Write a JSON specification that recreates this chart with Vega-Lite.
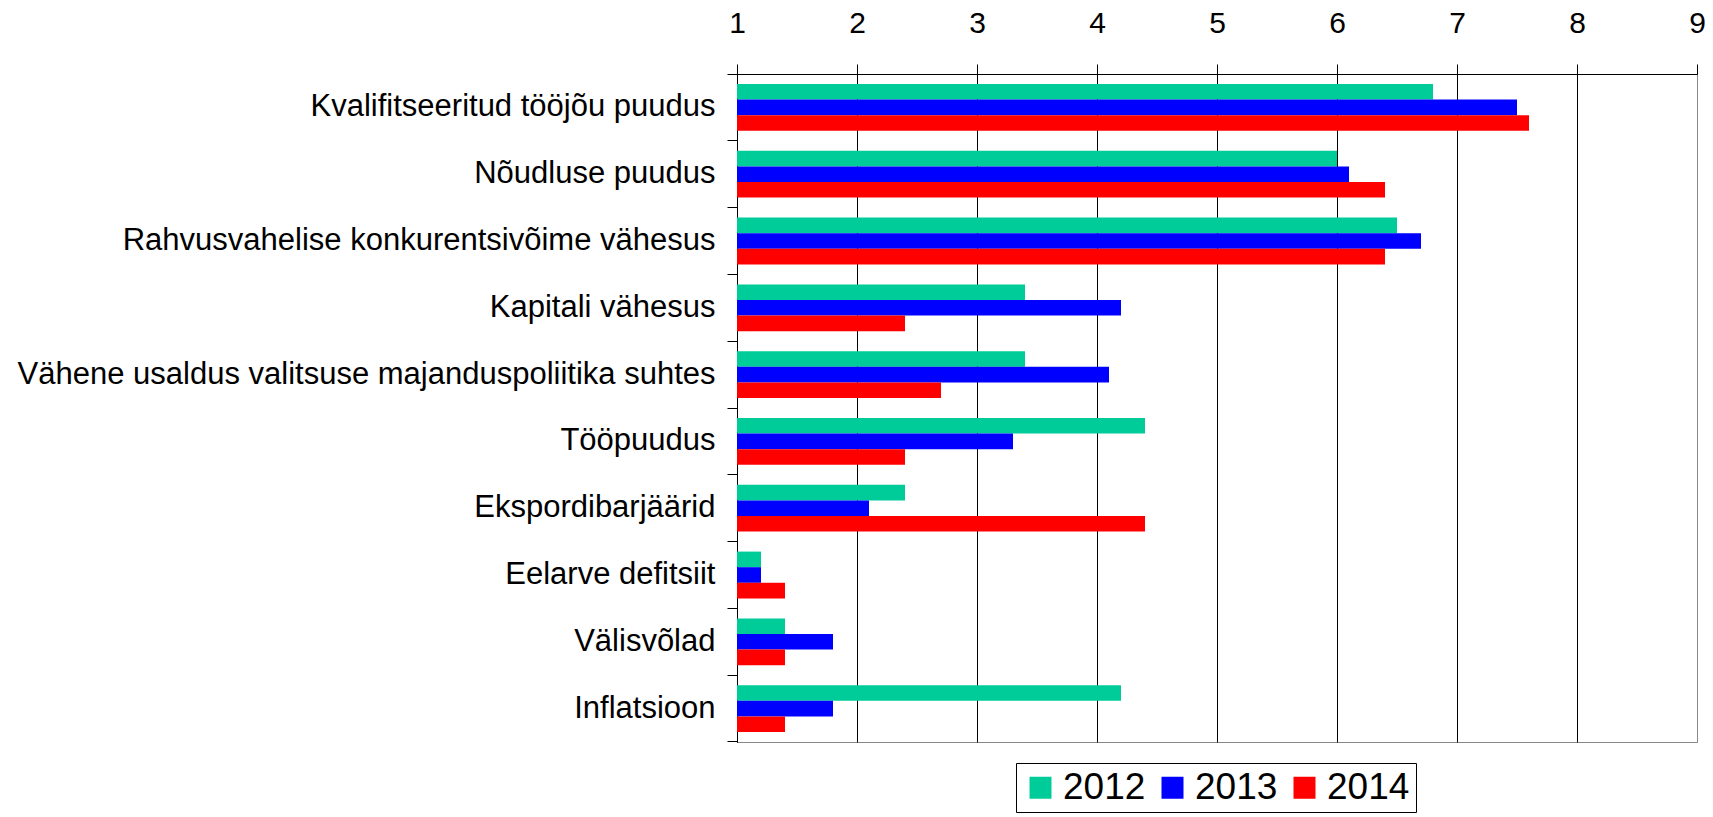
{
  "$schema": "https://vega.github.io/schema/vega-lite/v6.json",
  "autosize": {"type": "none"},
  "padding": {"left": 737, "top": 74, "right": 16, "bottom": 75},
  "width": 960,
  "height": 668,
  "background": "white",
  "config": {
    "font": "Liberation Sans",
    "view": {"stroke": "#888888", "strokeWidth": 1}
  },
  "data": {
    "values": [
      {"cat": "Kvalifitseeritud tööjõu puudus", "year": "2012", "value": 6.8},
      {"cat": "Kvalifitseeritud tööjõu puudus", "year": "2013", "value": 7.5},
      {"cat": "Kvalifitseeritud tööjõu puudus", "year": "2014", "value": 7.6},
      {"cat": "Nõudluse puudus", "year": "2012", "value": 6.0},
      {"cat": "Nõudluse puudus", "year": "2013", "value": 6.1},
      {"cat": "Nõudluse puudus", "year": "2014", "value": 6.4},
      {"cat": "Rahvusvahelise konkurentsivõime vähesus", "year": "2012", "value": 6.5},
      {"cat": "Rahvusvahelise konkurentsivõime vähesus", "year": "2013", "value": 6.7},
      {"cat": "Rahvusvahelise konkurentsivõime vähesus", "year": "2014", "value": 6.4},
      {"cat": "Kapitali vähesus", "year": "2012", "value": 3.4},
      {"cat": "Kapitali vähesus", "year": "2013", "value": 4.2},
      {"cat": "Kapitali vähesus", "year": "2014", "value": 2.4},
      {"cat": "Vähene usaldus valitsuse majanduspoliitika suhtes", "year": "2012", "value": 3.4},
      {"cat": "Vähene usaldus valitsuse majanduspoliitika suhtes", "year": "2013", "value": 4.1},
      {"cat": "Vähene usaldus valitsuse majanduspoliitika suhtes", "year": "2014", "value": 2.7},
      {"cat": "Tööpuudus", "year": "2012", "value": 4.4},
      {"cat": "Tööpuudus", "year": "2013", "value": 3.3},
      {"cat": "Tööpuudus", "year": "2014", "value": 2.4},
      {"cat": "Ekspordibarjäärid", "year": "2012", "value": 2.4},
      {"cat": "Ekspordibarjäärid", "year": "2013", "value": 2.1},
      {"cat": "Ekspordibarjäärid", "year": "2014", "value": 4.4},
      {"cat": "Eelarve defitsiit", "year": "2012", "value": 1.2},
      {"cat": "Eelarve defitsiit", "year": "2013", "value": 1.2},
      {"cat": "Eelarve defitsiit", "year": "2014", "value": 1.4},
      {"cat": "Välisvõlad", "year": "2012", "value": 1.4},
      {"cat": "Välisvõlad", "year": "2013", "value": 1.8},
      {"cat": "Välisvõlad", "year": "2014", "value": 1.4},
      {"cat": "Inflatsioon", "year": "2012", "value": 4.2},
      {"cat": "Inflatsioon", "year": "2013", "value": 1.8},
      {"cat": "Inflatsioon", "year": "2014", "value": 1.4}
    ]
  },
  "mark": {"type": "bar"},
  "encoding": {
    "y": {
      "field": "cat",
      "type": "nominal",
      "sort": null,
      "scale": {"paddingInner": 0, "paddingOuter": 0},
      "axis": {
        "title": null,
        "orient": "left",
        "domainColor": "black",
        "domainWidth": 1,
        "tickColor": "black",
        "tickSize": 10,
        "tickWidth": 1,
        "bandPosition": 1,
        "tickExtra": true,
        "labelFontSize": 31,
        "labelColor": "black",
        "labelPadding": 12,
        "labelLimit": 740,
        "grid": false
      }
    },
    "yOffset": {
      "field": "year",
      "type": "nominal",
      "scale": {"paddingInner": 0, "paddingOuter": 0.64}
    },
    "x": {
      "field": "value",
      "type": "quantitative",
      "scale": {"domain": [1, 9], "zero": false, "nice": false},
      "axis": {
        "title": null,
        "orient": "top",
        "values": [1, 2, 3, 4, 5, 6, 7, 8, 9],
        "format": "d",
        "domainColor": "black",
        "domainWidth": 1,
        "tickColor": "black",
        "tickSize": 10,
        "tickWidth": 1,
        "grid": true,
        "gridColor": {"condition": {"test": "datum.value === 9", "value": "#888888"}, "value": "black"},
        "gridWidth": 1,
        "gridOpacity": 1,
        "labelFontSize": 30,
        "labelColor": "black",
        "labelPadding": 26,
        "labelFlush": false
      }
    },
    "x2": {"datum": 1},
    "color": {
      "field": "year",
      "type": "nominal",
      "scale": {"domain": ["2012", "2013", "2014"], "range": ["#00CC99", "#0000FF", "#FF0000"]},
      "legend": {
        "title": null,
        "orient": "none",
        "legendX": 279,
        "legendY": 689,
        "direction": "horizontal",
        "strokeColor": "black",
        "fillColor": "white",
        "padding": 6,
        "symbolType": "square",
        "symbolSize": 484,
        "symbolStrokeWidth": 0,
        "labelFontSize": 37,
        "labelColor": "black",
        "labelOffset": 4,
        "columnPadding": 8
      }
    }
  }
}
